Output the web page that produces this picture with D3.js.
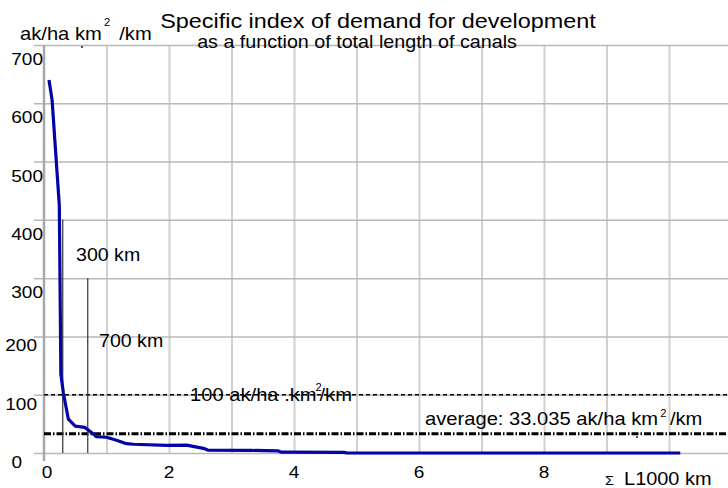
<!DOCTYPE html>
<html>
<head>
<meta charset="utf-8">
<script src="https://cdn.jsdelivr.net/npm/d3@7"></script>
<style>
  body { margin: 0; background: #fff; }
  svg text { font-family: "Liberation Sans", Arial, sans-serif; fill: #000; }
</style>
</head>
<body>
<div id="chart"></div>
<script>
// total canal length (1000 km) and specific demand index (ak/ha km2/km)
var lengthK = [0.08, 0.13, 0.20, 0.245, 0.27, 0.31, 0.39, 0.50, 0.65, 0.74, 0.84, 1.00, 1.16, 1.32, 1.43, 1.96, 2.28, 2.55, 2.62, 3.30, 3.75, 3.80, 4.80, 4.85, 10.18];
var demand = [640, 605, 495, 425, 135, 103, 58, 46, 44, 37, 28, 27, 22, 16, 15, 13, 13.5, 8, 5, 4.5, 3.5, 1.5, 1, 0, 0];
// reference markers
var markerKm = [0.3, 0.7];
var markerTop = [400, 300];
var markerLabels = ["300 km", "700 km"];
var thresholdValue = 100;
var averageValue = 33.035;
// axes
var yTicks = [0, 100, 200, 300, 400, 500, 600, 700];
var xGrid = [1, 2, 3, 4, 5, 6, 7, 8, 9, 10];
var xTickLabels = [0, 2, 4, 6, 8];

var W = 728, H = 488;
var sx = 1.12; // text in the original is a little wider than it is tall

var x = d3.scaleLinear().domain([0, 10.944]).range([44, 728]);
var y = d3.scaleLinear().domain([0, 700]).range([453, 45]);

var svg = d3.select("#chart").append("svg")
	.attr("width", W)
	.attr("height", H);

// put a stretched text at (px, py)
function label(px, py, size, anchor) {
	return svg.append("g")
		.attr("transform", "translate(" + px + "," + py + ")")
		.append("text")
		.attr("transform", "scale(" + sx + ",1)")
		.attr("font-size", size)
		.attr("text-anchor", anchor || "start");
}

// Grid, drawn with d3 axes
var vgrid = svg.append("g")
	.attr("transform", "translate(0," + y(0) + ")")
	.call(d3.axisBottom(x).tickValues(xGrid).tickSize(-(y(0) - y(700))).tickFormat(""));
vgrid.select(".domain").remove();
vgrid.selectAll(".tick line")
	.attr("stroke", "#d0d0d0")
	.attr("stroke-width", 2);

var hgrid = svg.append("g")
	.attr("transform", "translate(34,0)")
	.call(d3.axisLeft(y).tickValues(yTicks).tickSize(-(W - 34)).tickFormat(""));
hgrid.select(".domain").remove();
hgrid.selectAll(".tick line")
	.attr("stroke", "#b8b8b8")
	.attr("stroke-width", 1.5);

// Y axis line
svg.append("line")
	.attr("x1", x(0)).attr("x2", x(0))
	.attr("y1", y(700)).attr("y2", y(0) + 8)
	.attr("stroke", "#a8a8a8")
	.attr("stroke-width", 2.5);

// Y tick labels (lower ones sit a bit further left/up in the original)
yTicks.forEach(function(v) {
	var right = v >= 300 ? 43 : (v > 0 ? 37 : 22);
	var dy = v >= 300 ? 20 : 15;
	label(right, y(v) + dy, 17, "end").text(v);
});
// X tick labels
xTickLabels.forEach(function(v) {
	label(x(v) + (v === 0 ? 3 : 0), 478, 17, "middle").text(v);
});

// Reference lines
svg.append("line")
	.attr("x1", x(0)).attr("x2", W)
	.attr("y1", y(thresholdValue)).attr("y2", y(thresholdValue))
	.attr("stroke", "#000")
	.attr("stroke-width", 1.5)
	.attr("stroke-dasharray", "4,3");
svg.append("line")
	.attr("x1", x(0)).attr("x2", W)
	.attr("y1", y(averageValue)).attr("y2", y(averageValue))
	.attr("stroke", "#000")
	.attr("stroke-width", 3)
	.attr("stroke-dasharray", "7,2,1.5,2");

// Length markers
svg.selectAll(".marker")
	.data(markerKm)
	.enter()
	.append("line")
	.attr("class", "marker")
	.attr("x1", function(d) { return x(d); })
	.attr("x2", function(d) { return x(d); })
	.attr("y1", y(0))
	.attr("y2", function(d, i) { return y(markerTop[i]); })
	.attr("stroke", "#333")
	.attr("stroke-width", 1.2);

// Curve
var line = d3.line()
	.x(function(d, i) { return x(lengthK[i]); })
	.y(function(d) { return y(d); });
svg.append("path")
	.datum(demand)
	.attr("d", line)
	.attr("fill", "none")
	.attr("stroke", "#0303a6")
	.attr("stroke-width", 3.2)
	.attr("stroke-linejoin", "round");

// Marker labels
label(76, 261, 17.5).text(markerLabels[0]);
label(99, 347, 17.5).text(markerLabels[1]);

// Threshold label
var t100 = label(190, 401, 18);
t100.append("tspan").text(thresholdValue + " ak/ha  .km");
t100.append("tspan").attr("font-size", 10).attr("dy", -10).attr("dx", -1).text("2");
t100.append("tspan").attr("dy", 10).attr("dx", -2).text("/km");

// Average label
var tAvg = label(425, 425, 18);
tAvg.append("tspan").text("average: " + averageValue.toFixed(3) + " ak/ha km");
tAvg.append("tspan").attr("font-size", 10).attr("dy", -8).attr("dx", 2).text("2");
tAvg.append("tspan").attr("dy", 8).attr("dx", 3).text("/km");
svg.append("circle").attr("cx", 637).attr("cy", 437).attr("r", 0.9).attr("fill", "#000");

// Titles
label(378, 27.5, 20.9, "middle").text("Specific index of demand for development");
label(357, 47.5, 17.6, "middle").text("as a function of total length of canals");

// Y unit
var unit = label(20, 40, 18);
unit.append("tspan").text("ak/ha km");
unit.append("tspan").attr("font-size", 10).attr("dy", -14).attr("dx", 2).text("2");
unit.append("tspan").attr("dy", 14).attr("dx", 8).text("/km");
svg.append("circle").attr("cx", 82).attr("cy", 47).attr("r", 0.9).attr("fill", "#000");

// X unit
var xu = label(605, 485, 17.8);
xu.append("tspan").attr("font-size", 13).text("\u03A3");
xu.append("tspan").attr("dx", 9).text("L1000 km");
</script>
</body>
</html>
